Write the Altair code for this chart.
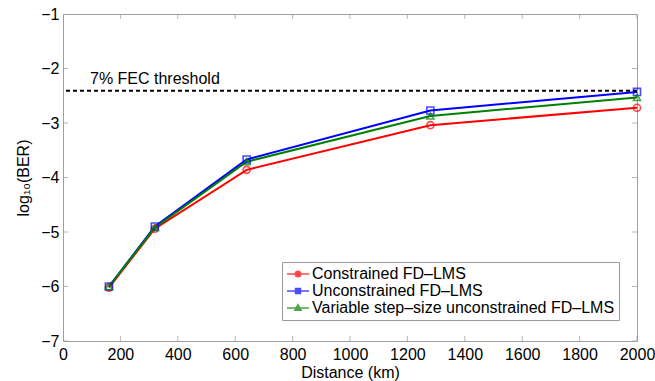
import altair as alt
import pandas as pd

# ---- data ----
distance = [160, 320, 640, 1280, 2000]
constrained = [-6.02, -4.94, -3.86, -3.04, -2.72]
unconstrained = [-6.00, -4.90, -3.67, -2.77, -2.43]
variable_step = [-6.00, -4.92, -3.71, -2.87, -2.53]
series_names = [
    "Constrained FD–LMS",
    "Unconstrained FD–LMS",
    "Variable step–size unconstrained FD–LMS",
]
series_colors = ["#ff0000", "#0000ff", "#008000"]
threshold_value = -2.41
threshold_label = "7% FEC threshold"
xticks = [0, 200, 400, 600, 800, 1000, 1200, 1400, 1600, 1800, 2000]
yticks = [-7, -6, -5, -4, -3, -2, -1]

FONT = "Liberation Sans"

rows = []
for name, vals in zip(series_names, [constrained, unconstrained, variable_step]):
    for d, v in zip(distance, vals):
        rows.append({"distance": d, "ber": v, "series": name})
df = pd.DataFrame(rows)

xscale = alt.Scale(domain=[0, 2000], nice=False, zero=False)
yscale = alt.Scale(domain=[-7, -1], nice=False, zero=False)

xenc = alt.X(
    "distance:Q",
    scale=xscale,
    axis=alt.Axis(values=xticks, format="d", title="Distance (km)", labelPadding=5,
                  titlePadding=2, labelFlush=False, labelOverlap=False),
)
yenc = alt.Y(
    "ber:Q",
    scale=yscale,
    axis=alt.Axis(values=yticks, format="d", title="log₁₀(BER)", labelPadding=4,
                  titlePadding=9, labelFlush=False, labelOverlap=False),
)

color_main = alt.Color("series:N", scale=alt.Scale(domain=series_names, range=series_colors), legend=None)

base = alt.Chart(df)
lines = base.mark_line(strokeWidth=2).encode(x=xenc, y=yenc, color=color_main)
points = base.mark_point(filled=False, size=50, strokeWidth=1.6).encode(
    x="distance:Q",
    y="ber:Q",
    color=color_main,
    shape=alt.Shape("series:N",
                    scale=alt.Scale(domain=series_names, range=["circle", "square", "triangle-up"]),
                    legend=None),
)

# legend symbols: line segment with a hollow (ring-shaped) marker
legend_paths = [
    "M-1,0H1"
    "M0.25,0A0.25,0.25,0,1,1,-0.25,0A0.25,0.25,0,1,1,0.25,0Z"
    "M0.14,0A0.14,0.14,0,1,0,-0.14,0A0.14,0.14,0,1,0,0.14,0Z",
    "M-1,0H1"
    "M-0.22,-0.22H0.22V0.22H-0.22Z"
    "M-0.11,-0.11V0.11H0.11V-0.11Z",
    "M-1,0H1"
    "M0,-0.28L0.28,0.2H-0.28Z"
    "M0,-0.12L-0.12,0.1H0.12Z",
]
leg_props = dict(
    title=None, orient="none", legendX=219, legendY=248,
    fillColor="white", strokeColor="#9a9a9a", padding=4,
    symbolSize=484, symbolStrokeWidth=1.6, symbolFillColor="transparent",
    labelFontSize=16, labelFont=FONT,
    labelColor="black", labelLimit=500, labelOffset=2, rowPadding=1, clipHeight=16,
)
legend_layer = (
    alt.Chart(df)
    .transform_calculate(label="datum.series")
    .transform_filter("false")
    .mark_point(filled=False, fill="transparent")
    .encode(
        stroke=alt.Stroke("label:N", scale=alt.Scale(domain=series_names, range=series_colors),
                          legend=alt.Legend(**leg_props)),
        shape=alt.Shape("label:N", scale=alt.Scale(domain=series_names, range=legend_paths),
                        legend=alt.Legend(**leg_props)),
    )
)

thr_df = pd.DataFrame({"y": [threshold_value], "label": [threshold_label]})
thr_rule = alt.Chart(thr_df).mark_rule(color="black", strokeWidth=2, strokeDash=[4, 3]).encode(y="y:Q")
thr_text = alt.Chart(thr_df).mark_text(
    align="left", baseline="alphabetic", dy=-7, fontSize=16, font=FONT, color="black"
).encode(x=alt.datum(94), y="y:Q", text="label:N")

# inward tick marks on all four sides
xt = pd.DataFrame({"t": xticks})
yt = pd.DataFrame({"t": yticks})
tick_style = dict(color="#999999", thickness=1, size=10, clip=True)
xt_bottom = alt.Chart(xt).mark_tick(orient="vertical", **tick_style).encode(x="t:Q", y=alt.datum(-7))
xt_top = alt.Chart(xt).mark_tick(orient="vertical", **tick_style).encode(x="t:Q", y=alt.datum(-1))
yt_left = alt.Chart(yt).mark_tick(orient="horizontal", **tick_style).encode(y="t:Q", x=alt.datum(0))
yt_right = alt.Chart(yt).mark_tick(orient="horizontal", **tick_style).encode(y="t:Q", x=alt.datum(2000))

chart = (
    alt.layer(lines, xt_bottom, xt_top, yt_left, yt_right, thr_rule, thr_text, points, legend_layer)
    .resolve_scale(color="independent", shape="independent", stroke="independent")
    .properties(
        width=574, height=327,
        padding={"left": 63, "top": 14, "right": 18, "bottom": 40},
        autosize=alt.AutoSizeParams(type="none"),
        background="white",
    )
    .configure_view(stroke="#a0a0a0", strokeWidth=1)
    .configure_axis(
        grid=False, domain=False, ticks=False, tickSize=0,
        labelFont=FONT, labelFontSize=16, labelColor="black",
        titleFont=FONT, titleFontSize=16, titleFontWeight="normal", titleColor="black",
    )
)

chart.save("out.html", embed_options={"renderer": "svg", "actions": False})
